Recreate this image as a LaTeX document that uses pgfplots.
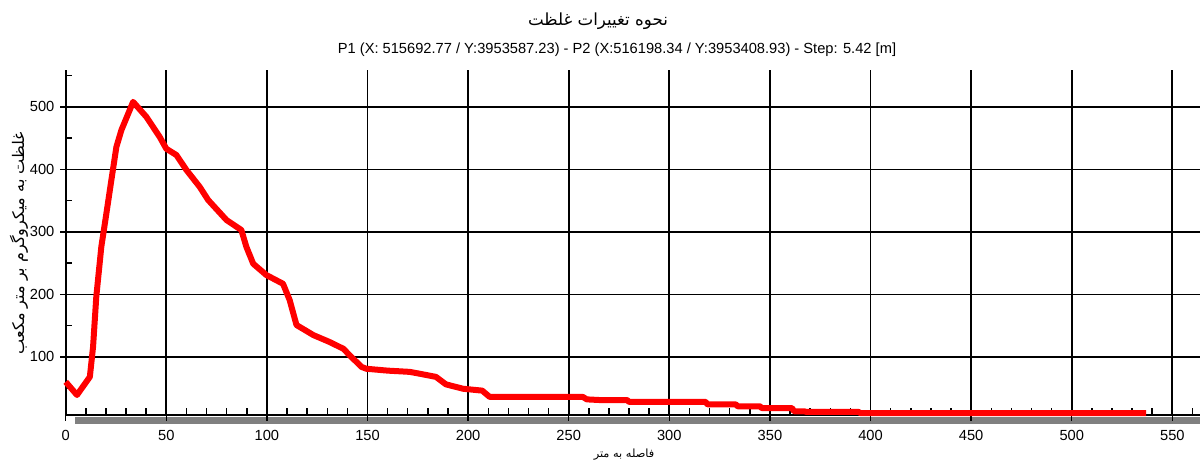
\documentclass[border=0pt]{standalone}
\usepackage{pgfplots}
\pgfplotsset{compat=1.18}
\usepackage{fontspec}
\setmainfont{Liberation Sans}
\newfontfamily\arabicfont[Script=Arabic]{DejaVu Sans}
\TeXXeTstate=1
\begin{document}
\begin{tikzpicture}
\begin{axis}[
  set layers,
  scale only axis, width=851.1pt, height=258.75pt,
  xmin=0, xmax=564, ymin=7, ymax=559,
  axis x line*=bottom, axis y line*=left,
  axis line style={-, black, line width=1.5pt},
  xtick={0,50,...,550}, ytick={100,200,...,500},
  minor xtick={10,20,...,560}, minor ytick={50,150,...,550},
  grid=major, major grid style={black, line width=1.3pt},
  tick align=inside, major tick length=-4.5pt, minor tick length=5pt,
  tick style={black, line width=1.1pt},
  /pgf/number format/assume math mode=true,
  tick label style={font=\fontsize{11}{13}\selectfont, black},
  xticklabel style={yshift=-8pt},
  yticklabel style={xshift=-5pt},
  clip=false,
]
\begin{pgfonlayer}{axis background}
\fill[black!50] ([shift={(7pt,-1.3pt)}]rel axis cs:0,0) rectangle ([yshift=-7pt]rel axis cs:1,0);
\end{pgfonlayer}
\coordinate (O) at (rel axis cs:0,0);
\addplot[red, line width=4.5pt, line join=round] coordinates {
(0,60) (5.6,39) (12,68) (13.6,116) (15.2,196) (17.7,276) (20.2,329) (22.7,383)
(25.2,436) (27.7,463) (33.5,508) (40.1,484) (46.7,452) (50,433) (55,423) (60,399)
(66.6,372) (70.8,351) (79.9,319) (87.3,303) (89.8,276) (93.2,249) (99.7,231)
(108,217) (111.3,191) (114.7,151) (123,135) (131,124) (138,113) (141,103) (147,84)
(149.4,81) (160,78) (171,76) (176,73) (184,68) (189,56) (197.5,49) (207,46)
(210.7,36) (257,36) (259,32) (265,31) (279,31) (280,28) (318,28) (319,24) (333,24)
(334,21) (345,21) (346,18) (361,18) (362,13) (367,13) (368,12) (394,12) (395,10)
(537,10)
};
\end{axis}
\pgfresetboundingbox
\coordinate (BL) at ([shift={(-49.275pt,-34.5pt)}]O);
\begin{scope}[shift={(BL)}, x=0.75pt, y=0.75pt]
\path[use as bounding box] (0,0) rectangle (1200,461);
\node[font=\arabicfont\fontsize{12.5}{15}\selectfont] at (598,440) {\beginR نحوه تغییرات غلظت\endR};
\node[font=\fontsize{11}{13}\selectfont] at (617,411) {P1 (X: 515692.77 / Y:3953587.23) - P2 (X:516198.34 / Y:3953408.93) - Step: 5.42 [m]};
\node[font=\arabicfont\fontsize{12}{14}\selectfont, rotate=90] at (19,218) {\beginR غلظت به میکروگرم بر متر مکعب\endR};
\node[font=\arabicfont\fontsize{8.5}{10}\selectfont] at (624,6) {\beginR فاصله به متر\endR};
\end{scope}
\end{tikzpicture}
\end{document}
